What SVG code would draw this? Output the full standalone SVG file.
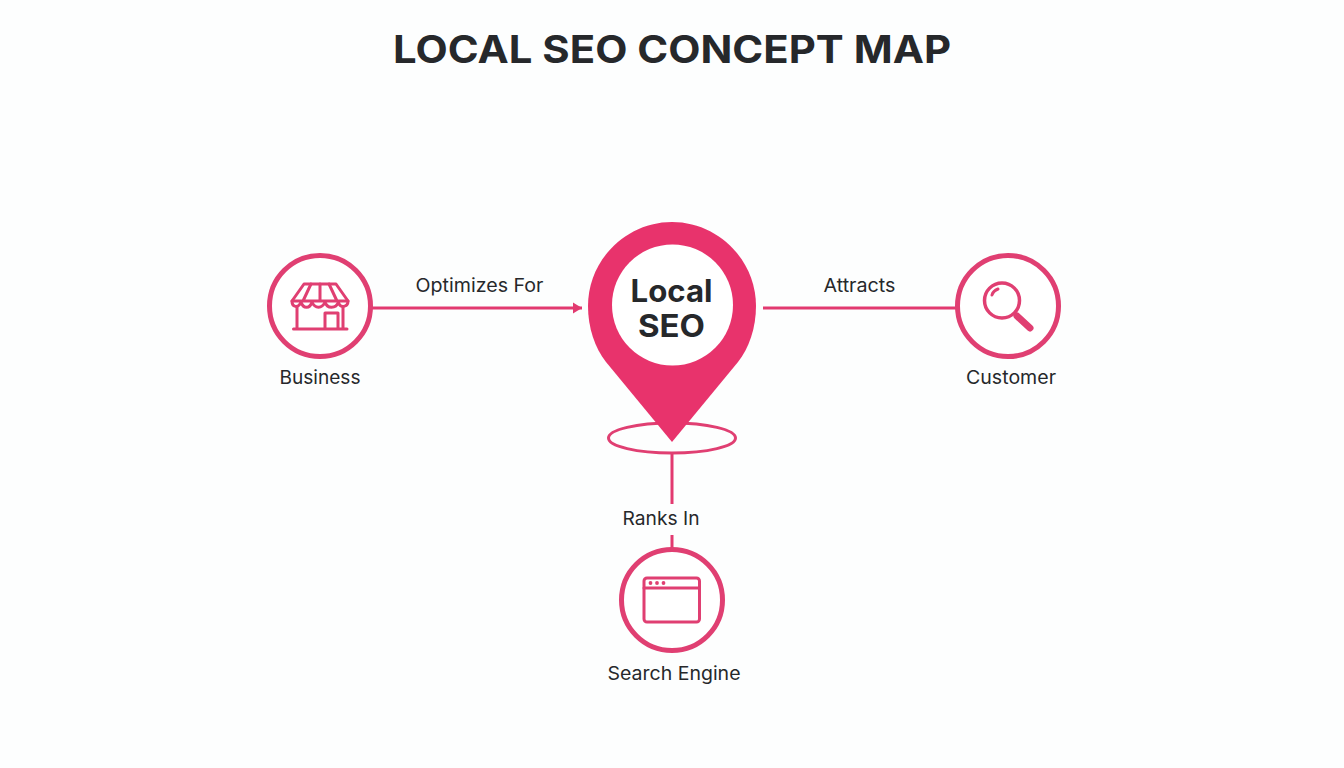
<svg xmlns="http://www.w3.org/2000/svg" width="1344" height="768" viewBox="0 0 1344 768">
<style>
text{font-family:"Inter","Open Sans","Liberation Sans",sans-serif;fill:#26282b;text-anchor:middle}
.lb{font-size:18.5px;font-weight:400}
.ring{fill:#fff;stroke:#e03f72;stroke-width:5}
.ic{fill:none;stroke:#e03f72;stroke-width:3;stroke-linejoin:round;stroke-linecap:round}
.ln{stroke:#e23a70;stroke-width:3;fill:none}
</style>
<defs><marker id="arr" markerUnits="userSpaceOnUse" markerWidth="12" markerHeight="14" refX="10" refY="7" orient="auto"><path d="M1,1.500 L10,7 L1,12.500 Z" fill="#e23a70"/></marker></defs>
<rect width="1344" height="768" fill="#fdfefe"/>
<text id="title" x="672" y="63" font-size="38" font-weight="700" textLength="558" lengthAdjust="spacingAndGlyphs">LOCAL SEO CONCEPT MAP</text>
<g id="connectors">
<path class="ln" d="M372,308 H582" marker-end="url(#arr)"/>
<path class="ln" d="M763,308 H956"/>
<path class="ln" d="M672,453 V504"/>
<path class="ln" d="M672,535 V548"/>
</g>
<text class="lb" x="479.500" y="292" textLength="128" lengthAdjust="spacingAndGlyphs">Optimizes For</text>
<text class="lb" x="859.500" y="292" textLength="72" lengthAdjust="spacingAndGlyphs">Attracts</text>
<text class="lb" x="661" y="525" textLength="77" lengthAdjust="spacingAndGlyphs">Ranks In</text>
<g id="local-seo">
<ellipse cx="672" cy="438" rx="63.500" ry="15" fill="none" stroke="#e03f72" stroke-width="3"/>
<path d="M672,442 L606,362 C595,348 588,328 588,306 C588,260 626,222 672,222 C718,222 756,260 756,306 C756,328 749,348 738,362 Z" fill="#e8336c"/>
<circle cx="672.500" cy="305" r="60.500" fill="#fff"/>
<text x="671.500" y="302" font-size="31" font-weight="700" textLength="82" lengthAdjust="spacingAndGlyphs">Local</text>
<text x="671.500" y="336.500" font-size="31" font-weight="700" textLength="67" lengthAdjust="spacingAndGlyphs">SEO</text>
</g>
<g id="business">
<circle class="ring" cx="320" cy="306" r="50.500"/>
<path class="ic" d="M304,284 H336 L348,301 C348,307 340,309 338.500,302 C336,309 327,309 325,302 C322,309 315,309 312,302 C310,309 303,309 301,302 C298,309 292,307 292,301 Z"/>
<path class="ic" d="M292,301 H348 M311,284 L303,301 M320,284 V301 M329,284 L337,301"/>
<path class="ic" d="M297,307 V329 M343,307 V329 M293.500,329 H347 M325,329 V313 H338 V329"/>
<text class="lb" x="320" y="384" textLength="81" lengthAdjust="spacingAndGlyphs">Business</text>
</g>
<g id="customer">
<circle class="ring" cx="1008" cy="306" r="50.500"/>
<circle class="ic" cx="1002" cy="300.500" r="17.500" style="stroke-width:3.500"/>
<path class="ic" d="M992,295 Q993,291 998,289" style="stroke-width:3"/>
<path d="M1017,316 L1030,328" stroke="#e03f72" stroke-width="7" stroke-linecap="round" fill="none"/>
<text class="lb" x="1011" y="384" textLength="90" lengthAdjust="spacingAndGlyphs">Customer</text>
</g>
<g id="search-engine">
<circle class="ring" cx="672" cy="600" r="50.500"/>
<rect class="ic" x="644" y="578" width="55.500" height="44" rx="3"/>
<path class="ic" d="M644,588 H699.500"/>
<g fill="#e03f72"><circle cx="650.500" cy="583" r="1.900"/><circle cx="657" cy="583" r="1.900"/><circle cx="663.500" cy="583" r="1.900"/></g>
<text class="lb" x="674" y="679.500" textLength="133" lengthAdjust="spacingAndGlyphs">Search Engine</text>
</g>
</svg>
